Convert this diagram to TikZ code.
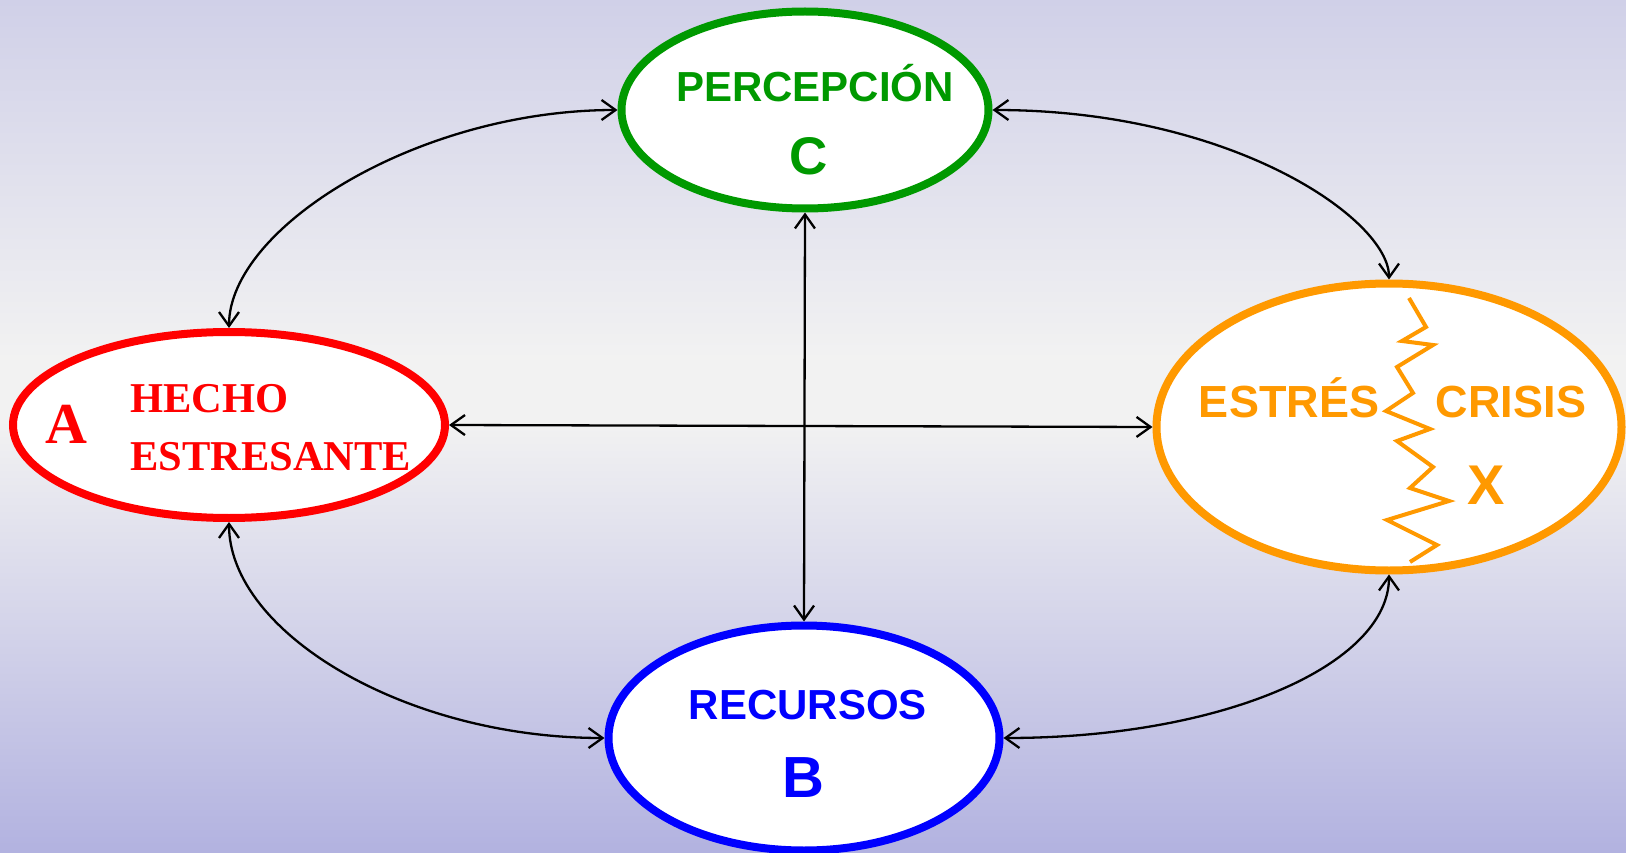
\documentclass[tikz,border=0pt]{standalone}
\usepackage{fontspec}
\setmainfont{Liberation Serif}
\newfontfamily\arialf{Liberation Sans}
\newfontfamily\timesf{Liberation Serif}
\usetikzlibrary{shapes.geometric,arrows.meta}
\definecolor{bgtop}{RGB}{208,208,232}
\definecolor{bgmid}{RGB}{242,242,242}
\definecolor{bgbot}{RGB}{178,178,224}
\definecolor{cgreen}{RGB}{0,153,0}
\definecolor{corange}{RGB}{255,153,0}
\tikzset{
  oval/.style={ellipse, line width=8pt, fill=white, inner sep=0pt},
  link/.style={line width=2.3pt, black, {Straight Barb[length=14pt,width=20pt]}-{Straight Barb[length=14pt,width=20pt]}},
  sflabel/.style={anchor=base, inner sep=0pt, font=\arialf\bfseries},
  serlabel/.style={anchor=base west, inner sep=0pt, font=\timesf\bfseries, text=red},
}
\begin{document}
\begin{tikzpicture}[x=1pt,y=-1pt]
\useasboundingbox (0,0) rectangle (1626,853);
\shade[top color=bgtop, bottom color=bgmid] (0,0) rectangle (1626,360);
\fill[bgmid] (0,359) rectangle (1626,421);
\shade[top color=bgmid, bottom color=bgbot] (0,420) rectangle (1626,853);

% ovals
\node[oval, draw=cgreen, minimum width=367pt, minimum height=197pt] (C) at (805,110) {};
\node[oval, draw=red, minimum width=432pt, minimum height=186pt] (A) at (229,425) {};
\node[oval, draw=corange, minimum width=465pt, minimum height=287pt] (X) at (1389,427) {};
\node[oval, draw=blue, minimum width=391pt, minimum height=225pt] (B) at (804,738) {};

% texts
\node[sflabel, text=cgreen, font=\arialf\bfseries\fontsize{42}{42}\selectfont] (tperc) at (815,102) {PERCEPCIÓN};
\node[sflabel, text=cgreen, font=\arialf\bfseries\fontsize{53}{53}\selectfont] (tc) at (809,175) {C};
\node[sflabel, text=blue, font=\arialf\bfseries\fontsize{42}{42}\selectfont] (trec) at (808,719) {RECURSOS};
\node[sflabel, text=blue, font=\arialf\bfseries\fontsize{58}{58}\selectfont] (tb) at (803,797) {B};
\node[sflabel, text=corange, font=\arialf\bfseries\fontsize{45}{45}\selectfont] (test) at (1289,417) {ESTRÉS};
\node[sflabel, text=corange, font=\arialf\bfseries\fontsize{45}{45}\selectfont] (tcri) at (1511,417) {CRISIS};
\node[sflabel, text=corange, font=\arialf\bfseries\fontsize{56}{56}\selectfont] (tx) at (1486,504) {X};
\node[serlabel, font=\timesf\bfseries\fontsize{42.5}{42.5}\selectfont] (th) at (130,412) {HECHO};
\node[serlabel, font=\timesf\bfseries\fontsize{42.5}{42.5}\selectfont] (tes) at (130,470) {ESTRESANTE};
\node[sflabel, text=red, font=\timesf\bfseries\fontsize{58}{58}\selectfont] (ta) at (66,443) {A};

% zigzag
\draw[corange, line width=4pt, line join=miter]
  (1409,298) -- (1426,327) -- (1402,341) -- (1433,345) -- (1397,367) -- (1413,393)
  -- (1386,411) -- (1430,429) -- (1397,441) -- (1433,467) -- (1410,488) -- (1449,501)
  -- (1387,520) -- (1437,545) -- (1410,562);

% connectors
\draw[link] (C.west) .. controls +(-200,0) and +(0,-100) .. (A.north);
\draw[link] (C.east) .. controls +(240,0) and +(0,-60) .. (X.north);
\draw[link] (A.south) .. controls +(0,110) and +(-200,0) .. (B.west);
\draw[link] (X.south) .. controls +(0,90) and +(220,0) .. (B.east);
\draw[link] (A.east) -- (X.west);
\draw[link] (C.south) -- (B.north);
\end{tikzpicture}
\end{document}
